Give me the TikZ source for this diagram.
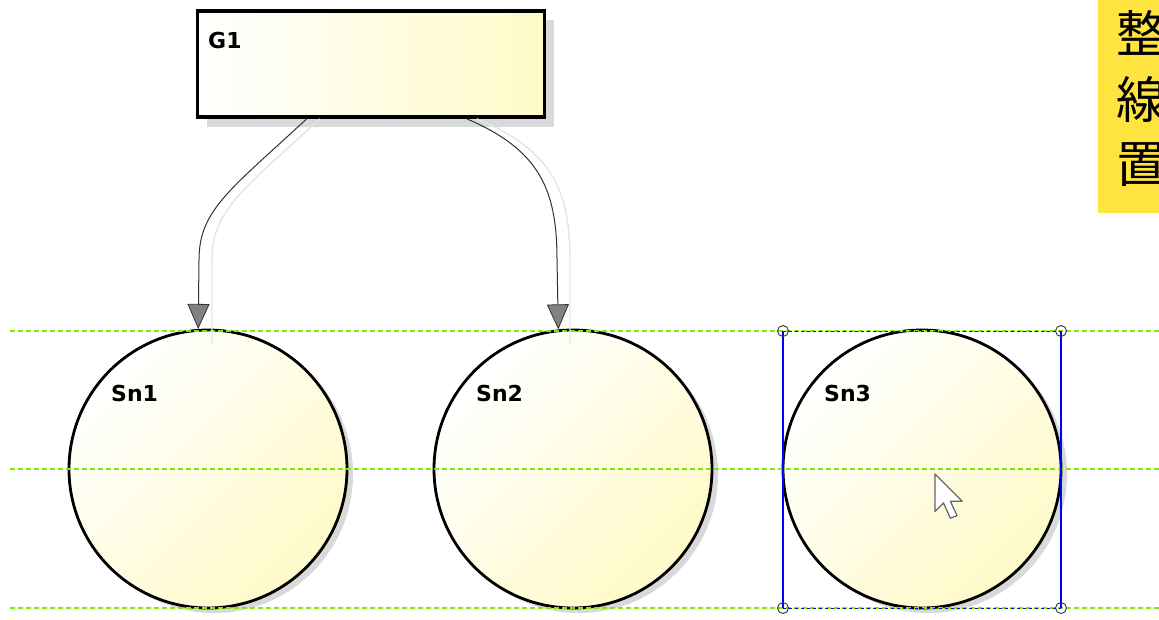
\documentclass[tikz,border=0pt]{standalone}
\usepackage{fontspec}
\setmainfont{DejaVu Sans}
\newfontfamily\cjkfont{Noto Sans CJK JP}
\usetikzlibrary{arrows.meta,shadows,calc}
\definecolor{pale}{RGB}{255,250,200}
\definecolor{guide}{RGB}{130,228,20}
\definecolor{notey}{RGB}{255,228,64}
\definecolor{tipgray}{RGB}{130,130,130}
\tikzset{
  shape box/.style={draw=black, line width=3.6pt, left color=white, right color=pale, inner sep=0pt},
  state circ/.style={circle, draw=black, line width=2.8pt, left color=white, right color=pale, shading angle=45, minimum size=278pt, inner sep=0pt,
     drop shadow={shadow xshift=6pt, shadow yshift=-5pt, fill=black, opacity=0.15}},
  lbl/.style={font=\bfseries\fontsize{22}{22}\selectfont, anchor=west, inner sep=0pt},
  guideline/.style={guide, line width=1.3pt, dash pattern=on 5pt off 3pt},
  conn/.style={line width=1pt, draw=black!80, -{Triangle[width=22pt,length=25pt,fill=tipgray,line width=0.8pt]}},
  connshadow/.style={line width=1.4pt, draw=black!10},
  handle/.style={circle, draw=black!80, line width=0.9pt, minimum size=11pt, inner sep=0pt, fill=none},
  sel/.style={draw=blue, line width=1.3pt},
  cjk/.style={font=\cjkfont\fontsize{50}{50}\selectfont, anchor=west, inner sep=0pt}
}
\begin{document}
\begin{tikzpicture}[x=1pt,y=-1pt]
\useasboundingbox (0,0) rectangle (1159,619);
\fill[white] (0,0) rectangle (1159,619);
% rectangle shadow
\fill[black!15] (207,20) rectangle (554,127);
\node[shape box, minimum width=347pt, minimum height=106pt] (g1) at (371,64) {};
\node[lbl] (g1l) at (208,40) {G1};
% circles
\node[state circ] (sn1) at (208,469) {};
\node[state circ] (sn2) at (573,469) {};
\node[state circ] (sn3) at (922,469) {};
\node[lbl] (sn1l) at (111,393) {Sn1};
\node[lbl] (sn2l) at (476,393) {Sn2};
\node[lbl] (sn3l) at (824,393) {Sn3};
% guide lines
\coordinate (gl1a) at (10,331); \coordinate (gl1b) at (1159,331);
\coordinate (gl2a) at (10,469); \coordinate (gl2b) at (1159,469);
\coordinate (gl3a) at (10,608); \coordinate (gl3b) at (1159,608);
\draw[guideline] (gl1a) -- (gl1b);
\draw[guideline] (gl2a) -- (gl2b);
\draw[guideline] (gl3a) -- (gl3b);
% connector start points
\coordinate (s1) at ($(g1.south west)+(111,0)$);
\coordinate (s2) at ($(g1.south west)+(271,0)$);
% connector shadows
\draw[connshadow] ($(s1)+(13,0)$) .. controls (243,190) and (212,210) .. (212,260) -- (212,345);
\draw[connshadow] ($(s2)+(10,0)$) .. controls (552,150) and (570,190) .. (570,260) -- (570,345);
% connectors
\draw[conn] (s1) .. controls (230,190) and (199,210) .. (199,260) -- (sn1.94);
\draw[conn] (s2) .. controls (540,150) and (557,190) .. (557,260) -- (sn2.96.6);
% selection
\coordinate (h1) at (783,331); \coordinate (h2) at (1061,331);
\coordinate (h3) at (1061,608); \coordinate (h4) at (783,608);
\draw[sel] (h1) -- (h4);
\draw[sel] (h2) -- (h3);
\draw[blue, line width=1pt, dash pattern=on 3pt off 3pt] (h1) -- (h2);
\draw[blue, line width=1pt, dash pattern=on 3pt off 3pt] (h4) -- (h3);
\node[handle] (hn1) at (h1) {};
\node[handle] (hn2) at (h2) {};
\node[handle] (hn3) at (h3) {};
\node[handle] (hn4) at (h4) {};
% cursor
\draw[fill=white, draw=black!60, line width=1.2pt, line join=round, shift={(935,474)}, scale=1.7]
  (0,0) -- (0,22) -- (5,17) -- (9,26) -- (13,24.5) -- (9,16) -- (16,16) -- cycle;
% note
\fill[notey] (1098,0) rectangle (1159,213);
\begin{scope}
\clip (1098,0) rectangle (1159,213);
\node[cjk] (c1) at (1116,33) {整};
\node[cjk] (c2) at (1116,99) {線};
\node[cjk] (c3) at (1116,165) {置};
\end{scope}
\end{tikzpicture}
\end{document}
